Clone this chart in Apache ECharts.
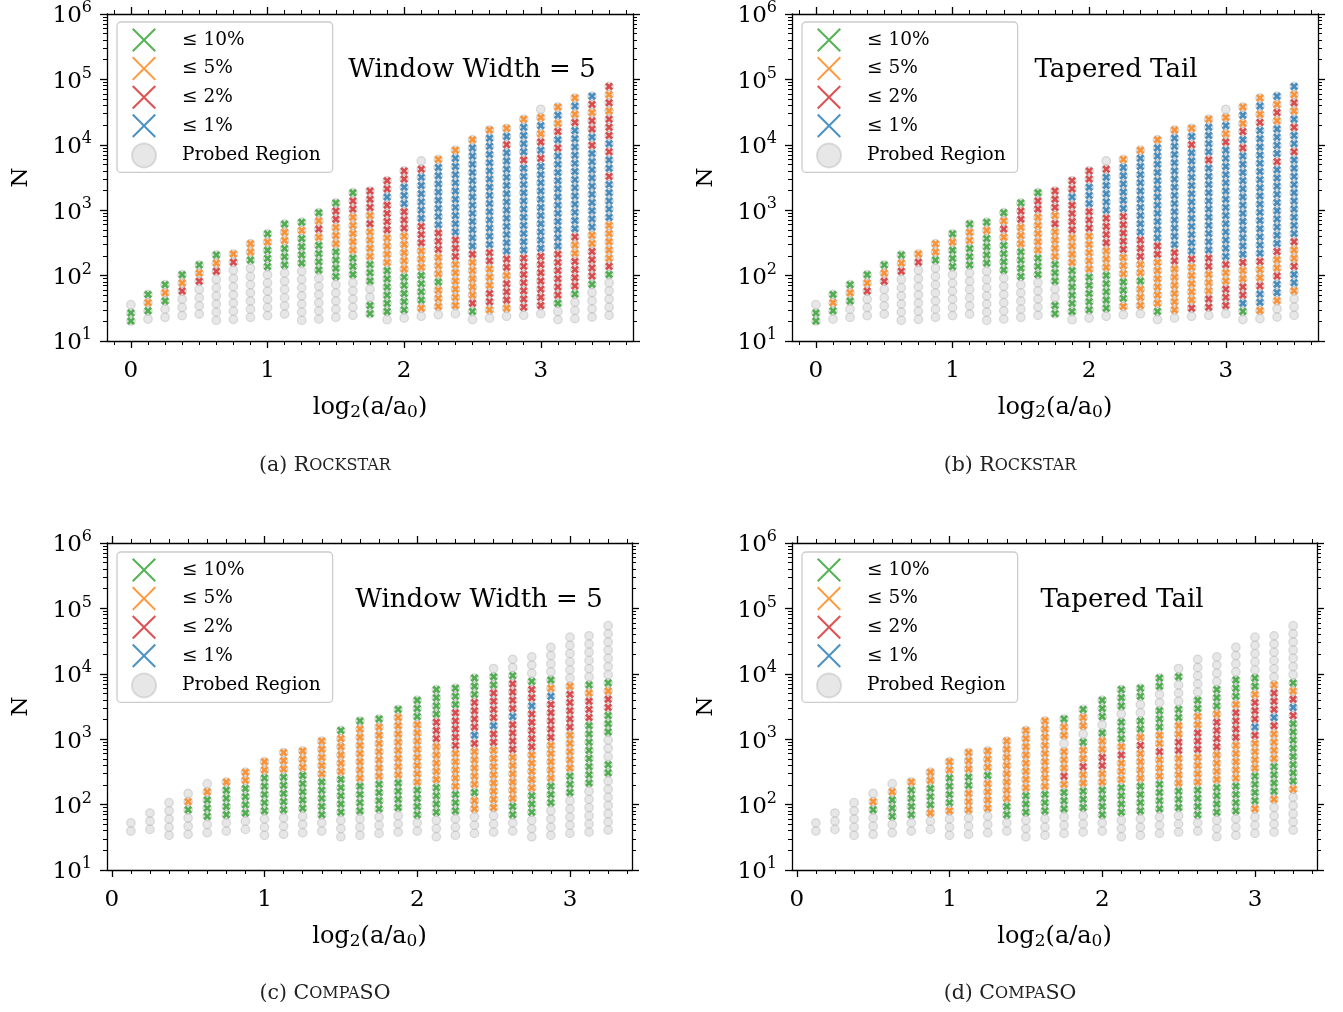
<!DOCTYPE html>
<html>
<head>
<meta charset="utf-8">
<script src="https://cdn.jsdelivr.net/npm/echarts@6/dist/echarts.min.js"></script>
<style>
  html, body { margin: 0; padding: 0; background: #ffffff; }
  #chart { width: 1343px; height: 1012px; }
</style>
</head>
<body>
<div id="chart"></div>
<script>
// Each column probes N on a logarithmic grid with a fixed spacing (in decades).
const GRID_STEP = 0.125;

// Column codes read bottom-up, one token per run of probed points:
// "." probed only, "g" <=10%, "o" <=5%, "r" <=2%, "b" <=1%; a number after the letter repeats it.

// ---- Rockstar ----
const xRockstar = [0, 0.125, 0.25, 0.375, 0.5, 0.625, 0.75, 0.875, 1, 1.125, 1.25, 1.375, 1.5, 1.625,
  1.75, 1.875, 2, 2.125, 2.25, 2.375, 2.5, 2.625, 2.75, 2.875, 3, 3.125, 3.25, 3.375, 3.5];
// log10 of the lowest probed N in each column
const baseRockstar = [1.305, 1.336, 1.362, 1.388, 1.413, 1.316, 1.331, 1.362, 1.388, 1.413, 1.316, 1.336,
  1.362, 1.392, 1.418, 1.326, 1.351, 1.377, 1.402, 1.418, 1.327, 1.351, 1.377, 1.392, 1.418, 1.327,
  1.342, 1.367, 1.392];
const codesRockWindow = [
  "g2 .", ". g o g", ".2 g o g", ".3 r o g", ".4 r o g", ".6 r o g", ".7 r o", ".7 g o2",
  ".6 g3 o g", ".6 g3 o2 g", ".7 g4 o g", ".6 g4 o r o g", ".5 g4 o3 r2 g", ".5 g3 o5 r2 g",
  "g2 .2 g3 o4 r o r3", ". g6 o4 r4 b r2", ". g5 o5 r3 b3 r2", ". o g4 o3 r3 b6 r .",
  ". o3 g o3 r3 b8 o", ". o6 r3 b10 o", ". g r o5 r b13 o", ". o r2 o3 r2 b14 o",
  ". o r3 o r2 b13 r b o", ". r7 b11 r b4 o", ". r7 b11 r b r o b o .",
  ".2 g r6 b12 r b r o b o", ".3 g r4 o2 r b13 r o b o", ".4 g r4 o2 b10 r b r2 o r b",
  ".5 g r o5 b5 r b2 r b r3 o r o r"
];
const codesRockTapered = [
  "g2 .", ". g o g", ".2 g o g", ".3 r o g", ".4 r o g", ".6 r o g", ".7 r o", ".7 g o2",
  ".6 g3 o g", ".6 g3 o2 g", ".7 g4 o g", ".6 g4 o r o g", ".5 g4 o3 r2 g", ".5 g3 o5 r2 g",
  "g2 .2 g3 o4 r o r3", ". g6 o4 r4 b r2", ". g5 o5 r3 b3 r2", ". g5 o3 r4 b5 r .",
  ". o g3 o3 r5 b6 o", ". o3 g o2 r3 b10 o", ". g o6 r2 b12 o", ". o6 r2 b14 o",
  ". r o5 r b13 r b o", ". r2 o3 r2 b11 r b4 o", ". r3 o2 r b14 r o b o .",
  ". g b r2 o2 r b13 r b r o b o", ". o b2 r o2 r b16 r o b o",
  ".2 o b2 r o2 r b10 r b4 o r o b", ".3 o b2 r o2 r b10 r b2 r b o r o b"
];

// ---- CompaSO ----
const xCompaSO = [0.125, 0.25, 0.375, 0.5, 0.625, 0.75, 0.875, 1, 1.125, 1.25, 1.375, 1.5, 1.625,
  1.75, 1.875, 2, 2.125, 2.25, 2.375, 2.5, 2.625, 2.75, 2.875, 3, 3.125, 3.25];
const baseCompaSO = [1.596, 1.621, 1.530, 1.545, 1.570, 1.596, 1.621, 1.530, 1.545, 1.570, 1.596,
  1.509, 1.530, 1.560, 1.580, 1.596, 1.509, 1.530, 1.560, 1.580, 1.596, 1.509, 1.530, 1.560,
  1.580, 1.611];
const codesCompWindow = [
  ".2", ".3", ".5", ".3 g o .", ".2 g3 o .", ".2 g4 o", ".2 g4 o2", ".3 g5 o2", ".3 g5 o3",
  ".3 g5 o3", ".2 g5 o5", ".3 g5 o5 g", ".3 g4 o7 g", ".3 g4 o7 g", ".3 g4 o8 g",
  ".2 g4 o8 g3", ".3 g4 o5 r3 g4", ".3 g3 o5 r5 g3", ".3 o2 g o5 r b r4 g3",
  ".3 o8 r2 b r4 g2 .", ".2 g2 o6 r4 b r4 g .2", ".3 g3 o5 r5 b r2 g .3",
  ".4 g3 o5 r5 b o g .4", ".5 g3 o5 r5 o .6", ".6 g8 r3 o g .6", ".7 g2 .3 g3 r2 o g .7"
];
const codesCompTapered = [
  ".2", ".3", ".5", ".3 g o .", ".2 g3 o .", ".2 g4 o", ".2 o g3 o2", ".3 o g4 o2",
  ".3 o3 g2 o3", ".3 o4 g o3", ".2 g2 o8", ".3 g3 o8", ".3 g3 o9",
  ".3 g3 o r o3 . o2 g", ".3 g3 o2 r o2 g . o2 g", ".2 g4 o2 r2 o2 g . g3",
  ".3 g4 o3 r o g3 . g3", ".3 g4 o4 r o g2 .2 g2", ".3 g4 o3 r o2 g3 .2 g2",
  ".3 g3 o4 r2 o2 g2 .3 g .", ".2 g4 o4 r3 o2 g2 .5", ".3 g4 o4 r4 o g3 .4",
  ".3 g4 o5 r4 o g3 .4", ".3 o g4 o4 r b r3 o g2 .5", ".4 o g4 o4 r b r3 o .6",
  ".5 o g8 r b r o g .7"
];

// ---- axis ticks and labels ----
const xTickValues = [0, 1, 2, 3];
const yTickExponents = ['1', '2', '3', '4', '5', '6'];
const categoryNames = ['\u2264 10%', '\u2264 5%', '\u2264 2%', '\u2264 1%'];
const probedName = 'Probed Region';

// ---------------------------------------------------------------------------
const SERIF = 'DejaVu Serif';
const CAT_KEYS = ['g', 'o', 'r', 'b'];
const CAT_COLORS = ['#2ca02c', '#ff7f0e', '#d62728', '#1f77b4'];
const XMARK = 'path://M24,0 L50,26 L76,0 L100,24 L74,50 L100,76 L76,100 L50,74 L24,100 L0,76 L26,50 L0,24 Z';
const XTHIN = 'path://M6,0 L50,44 L94,0 L100,6 L56,50 L100,94 L94,100 L50,56 L6,100 L0,94 L44,50 L0,6 Z';

function expand(code) {
  const out = [];
  code.split(' ').forEach(tok => {
    const n = tok.length > 1 ? parseInt(tok.slice(1), 10) : 1;
    for (let i = 0; i < n; i++) out.push(tok[0]);
  });
  return out;
}

function buildPanel(xs, bases, codes) {
  const probed = [];
  const cats = { g: [], o: [], r: [], b: [] };
  codes.forEach((code, j) => {
    expand(code).forEach((c, i) => {
      const pt = [xs[j], Math.pow(10, bases[j] + i * GRID_STEP)];
      probed.push(pt);
      if (cats[c]) cats[c].push(pt);
    });
  });
  return { probed, cats };
}

function minorX(lo, hi) {
  const v = [];
  for (let k = Math.ceil(lo * 8); k <= Math.floor(hi * 8); k++) if (k % 8 !== 0) v.push(k / 8);
  return v;
}
const yMinor = [];
for (let e = 1; e <= 5; e++) for (let m = 2; m <= 9; m++) yMinor.push(m * Math.pow(10, e));
const yMajor = [10, 100, 1000, 10000, 100000, 1000000];

const panels = [
  { grid: { left: 107, top: 13, width: 526, height: 328 }, xMin: -0.175, xMax: 3.675,
    data: buildPanel(xRockstar, baseRockstar, codesRockWindow),
    note: 'Window Width = 5', noteAt: [472, 70], legendAt: [117, 22],
    caption: '(a) {c|R}{s|OCKSTAR}', capAt: [325, 466] },
  { grid: { left: 792, top: 13, width: 526, height: 328 }, xMin: -0.175, xMax: 3.675,
    data: buildPanel(xRockstar, baseRockstar, codesRockTapered),
    note: 'Tapered Tail', noteAt: [1116, 70], legendAt: [802, 22],
    caption: '(b) {c|R}{s|OCKSTAR}', capAt: [1010, 466] },
  { grid: { left: 107, top: 543, width: 525, height: 327 }, xMin: -0.03125, xMax: 3.40625,
    data: buildPanel(xCompaSO, baseCompaSO, codesCompWindow),
    note: 'Window Width = 5', noteAt: [479, 600], legendAt: [117, 552],
    caption: '(c) {c|C}{s|OMPA}{c|SO}', capAt: [325, 994] },
  { grid: { left: 792, top: 543, width: 525, height: 327 }, xMin: -0.03125, xMax: 3.40625,
    data: buildPanel(xCompaSO, baseCompaSO, codesCompTapered),
    note: 'Tapered Tail', noteAt: [1122, 600], legendAt: [802, 552],
    caption: '(d) {c|C}{s|OMPA}{c|SO}', capAt: [1010, 994] }
];

const LINE = { color: '#000', width: 1.3 };
const MINOR = { color: '#000', width: 1 };
const grids = [], xAxes = [], yAxes = [], series = [], legends = [], graphics = [];

panels.forEach((p, gi) => {
  grids.push(Object.assign({ containLabel: false }, p.grid));
  const xm = minorX(p.xMin, p.xMax);
  const xb = { type: 'value', gridIndex: gi, min: p.xMin, max: p.xMax, splitLine: { show: false } };
  // bottom: frame, major ticks, labels, name
  xAxes.push(Object.assign({}, xb, {
    position: 'bottom',
    axisLine: { show: true, onZero: false, lineStyle: LINE },
    axisTick: { show: true, length: 7, customValues: xTickValues, lineStyle: LINE },
    axisLabel: { show: true, customValues: xTickValues, margin: 19, fontFamily: SERIF, fontSize: 23, color: '#000',
      formatter: v => String(Math.round(v)) },
    name: '{m|log}{s|2}{m|(a/a}{s|0}{m|)}', nameLocation: 'middle', nameGap: 55,
    nameTextStyle: {
      fontFamily: SERIF, fontSize: 24, color: '#000',
      rich: {
        m: { fontFamily: SERIF, fontSize: 24, lineHeight: 25, verticalAlign: 'top', color: '#000' },
        s: { fontFamily: SERIF, fontSize: 17, lineHeight: 17, verticalAlign: 'bottom', padding: [12, 0, 0, 0], color: '#000' }
      }
    }
  }));
  xAxes.push(Object.assign({}, xb, {
    position: 'bottom', axisLine: { show: false, onZero: false },
    axisTick: { show: true, length: 4, customValues: xm, lineStyle: MINOR },
    axisLabel: { show: false }
  }));
  xAxes.push(Object.assign({}, xb, {
    position: 'top', axisLine: { show: true, onZero: false, lineStyle: LINE },
    axisTick: { show: true, length: 7, customValues: xTickValues, lineStyle: LINE },
    axisLabel: { show: false }
  }));
  xAxes.push(Object.assign({}, xb, {
    position: 'top', axisLine: { show: false, onZero: false },
    axisTick: { show: true, length: 4, customValues: xm, lineStyle: MINOR },
    axisLabel: { show: false }
  }));

  const yb = { type: 'log', logBase: 10, gridIndex: gi, min: 10, max: 1000000, splitLine: { show: false } };
  yAxes.push(Object.assign({}, yb, {
    position: 'left',
    axisLine: { show: true, onZero: false, lineStyle: LINE },
    axisTick: { show: true, length: 7, customValues: yMajor, lineStyle: LINE },
    axisLabel: { show: true, customValues: yMajor, margin: 15, color: '#000',
      showMinLabel: true, showMaxLabel: true,
      formatter: v => '{b|10}{e|' + yTickExponents[Math.round(Math.log10(v)) - 1] + '}',
      rich: {
        b: { fontFamily: SERIF, fontSize: 23, lineHeight: 28, verticalAlign: 'bottom', color: '#000' },
        e: { fontFamily: SERIF, fontSize: 16, lineHeight: 16, verticalAlign: 'top', color: '#000' }
      } },
    name: 'N', nameLocation: 'middle', nameGap: 74, nameRotate: 90,
    nameTextStyle: { fontFamily: SERIF, fontSize: 23, color: '#000' }
  }));
  yAxes.push(Object.assign({}, yb, {
    position: 'left', axisLine: { show: false, onZero: false },
    axisTick: { show: true, length: 4, customValues: yMinor, lineStyle: MINOR },
    axisLabel: { show: false }
  }));
  yAxes.push(Object.assign({}, yb, {
    position: 'right', axisLine: { show: true, onZero: false, lineStyle: LINE },
    axisTick: { show: true, length: 7, customValues: yMajor, lineStyle: LINE },
    axisLabel: { show: false }
  }));
  yAxes.push(Object.assign({}, yb, {
    position: 'right', axisLine: { show: false, onZero: false },
    axisTick: { show: true, length: 4, customValues: yMinor, lineStyle: MINOR },
    axisLabel: { show: false }
  }));

  const xi = gi * 4, yi = gi * 4;
  series.push({
    type: 'scatter', name: probedName, xAxisIndex: xi, yAxisIndex: yi, z: 2,
    symbol: 'circle', symbolSize: 8.5, data: p.data.probed, silent: true,
    itemStyle: { color: 'rgba(200,200,200,0.55)', borderColor: 'rgba(185,185,185,0.6)', borderWidth: 1.3 }
  });
  CAT_KEYS.forEach((k, ci) => {
    series.push({
      type: 'scatter', name: categoryNames[ci], xAxisIndex: xi, yAxisIndex: yi, z: 3,
      symbol: XMARK, symbolSize: 8, data: p.data.cats[k], silent: true,
      itemStyle: { color: CAT_COLORS[ci] }
    });
  });

  legends.push({
    left: p.legendAt[0], top: p.legendAt[1], orient: 'vertical', selectedMode: false,
    itemWidth: 24, itemHeight: 24, itemGap: 4.6,
    padding: [6, 12, 4, 14],
    backgroundColor: 'rgba(255,255,255,0.85)', borderColor: '#cccccc', borderWidth: 1.3, borderRadius: 4,
    textStyle: { fontFamily: SERIF, fontSize: 18.5, color: '#000', padding: [0, 0, 0, 21] },
    data: categoryNames.map(n => ({ name: n, icon: XTHIN })).concat([{ name: probedName, icon: 'circle' }])
  });

  graphics.push({
    type: 'text', x: p.noteAt[0], y: p.noteAt[1], silent: true,
    style: { text: p.note, fontFamily: SERIF, fontSize: 26, fill: '#000', textAlign: 'center', textVerticalAlign: 'middle' }
  });
  graphics.push({
    type: 'text', x: p.capAt[0], y: p.capAt[1], silent: true,
    style: {
      text: p.caption, fontFamily: SERIF, fontSize: 20.5, fill: '#222', textAlign: 'center', textVerticalAlign: 'middle',
      rich: {
        c: { fontFamily: SERIF, fontSize: 20.5, fill: '#222' },
        s: { fontFamily: SERIF, fontSize: 16, fill: '#222' }
      }
    }
  });
});

const chart = echarts.init(document.getElementById('chart'), null, { renderer: 'canvas' });
chart.setOption({
  animation: false,
  backgroundColor: '#ffffff',
  grid: grids,
  xAxis: xAxes,
  yAxis: yAxes,
  legend: legends,
  series: series,
  graphic: graphics
});
</script>
</body>
</html>
